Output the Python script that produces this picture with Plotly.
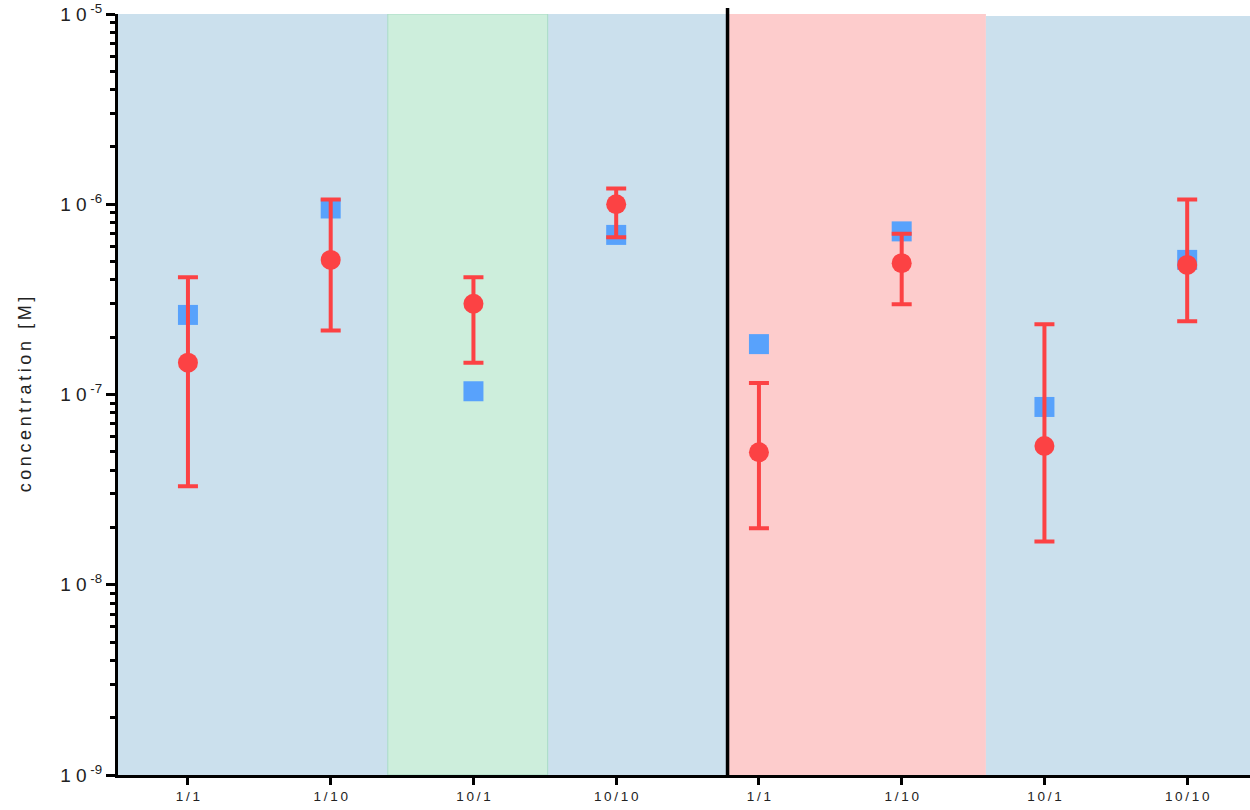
import plotly.graph_objects as go

TS = "\u2009"  # thin space used for letter tracking in labels

# Conditions (x categories) and their tick labels
categories = ["1/1", "1/10", "10/1", "10/10", "1/1", "1/10", "10/1", "10/10"]

# Measured concentrations [M] (square markers)
measured = [2.62e-7, 9.5e-7, 1.04e-7, 6.9e-7, 1.84e-7, 7.2e-7, 8.6e-8, 5.1e-7]

# Estimated concentrations [M] (circles) with lower / upper bounds of the error bars
estimate = [1.47e-7, 5.1e-7, 3.0e-7, 1.0e-6, 4.97e-8, 4.9e-7, 5.36e-8, 4.8e-7]
upper = [4.13e-7, 1.06e-6, 4.13e-7, 1.21e-6, 1.15e-7, 7.0e-7, 2.34e-7, 1.06e-6]
lower = [3.29e-8, 2.17e-7, 1.47e-7, 6.7e-7, 1.98e-8, 2.98e-7, 1.69e-8, 2.43e-7]

# Decade tick labels
decades = [1e-9, 1e-8, 1e-7, 1e-6, 1e-5]
decade_labels = ["1 0<sup> -9</sup>", "1 0<sup> -8</sup>", "1 0<sup> -7</sup>",
                 "1 0<sup> -6</sup>", "1 0<sup> -5</sup>"]

y_title = "concentration [M]"

xpos = list(range(len(categories)))
err_plus = [u - e for u, e in zip(upper, estimate)]
err_minus = [e - l for e, l in zip(estimate, lower)]
tracked_categories = [TS.join(c) for c in categories]

RED = "#FC4244"
BLUE = "#58A2FC"

fig = go.Figure()

fig.add_trace(go.Scatter(
    x=xpos, y=measured, mode="markers",
    marker=dict(symbol="square", size=20, color=BLUE, line=dict(width=0)),
    showlegend=False, hoverinfo="x+y",
))

fig.add_trace(go.Scatter(
    x=xpos, y=estimate, mode="markers",
    marker=dict(symbol="circle", size=20, color=RED, line=dict(width=0)),
    error_y=dict(type="data", symmetric=False, array=err_plus, arrayminus=err_minus,
                 color=RED, thickness=4, width=10),
    showlegend=False, hoverinfo="x+y",
))

# Shaded background regions
shapes = [
    dict(type="rect", xref="x", yref="y", x0=-0.49, x1=3.78, y0=1e-9, y1=1e-5,
         fillcolor="#CBE0ED", line=dict(width=0), layer="below"),
    dict(type="rect", xref="x", yref="y", x0=1.40, x1=2.52, y0=1e-9, y1=1e-5,
         fillcolor="#CDEEDC", line=dict(width=1, color="#A9DCC6"), layer="below"),
    dict(type="rect", xref="x", yref="y", x0=3.78, x1=5.59, y0=1e-9, y1=1e-5,
         fillcolor="#FDCCCC", line=dict(width=0), layer="below"),
    dict(type="rect", xref="x", yref="y", x0=5.59, x1=7.6, y0=1e-9, y1=9.76e-6,
         fillcolor="#CBE0ED", line=dict(width=0), layer="below"),
    dict(type="line", xref="x", yref="paper", x0=3.78, x1=3.78, y0=0, y1=1.008,
         line=dict(width=3.5, color="black"), layer="above"),
]

# Minor log ticks (2..9 within each decade)
minor_vals = [m * d for d in decades[:-1] for m in range(2, 10)]

fig.update_layout(
    width=1250, height=810,
    margin=dict(l=118, r=0, t=14, b=35),
    plot_bgcolor="white", paper_bgcolor="white",
    shapes=shapes,
    font=dict(family="Liberation Sans, Arial, sans-serif", color="#222222"),
    xaxis=dict(
        range=[-0.49, 7.44], tickmode="array", tickvals=xpos, ticktext=tracked_categories,
        showgrid=False, zeroline=False, showline=True, linecolor="black", linewidth=3,
        ticks="outside", ticklen=7, tickwidth=3, tickcolor="black",
        tickfont=dict(size=13.5, color="#222222"),
    ),
    yaxis=dict(
        type="log", range=[-9, -5], tickmode="array", tickvals=decades, ticktext=decade_labels,
        showgrid=False, zeroline=False, showline=True, linecolor="black", linewidth=3,
        ticks="outside", ticklen=9, tickwidth=3, tickcolor="black",
        tickfont=dict(size=19, color="#222222"),
        minor=dict(tickvals=minor_vals, ticks="outside", ticklen=5, tickwidth=2.5,
                   tickcolor="black", showgrid=False),
        title=dict(text=TS.join(y_title), font=dict(size=18, color="#222222"), standoff=24),
    ),
)

fig.write_html("out.html", config={"displayModeBar": False})
